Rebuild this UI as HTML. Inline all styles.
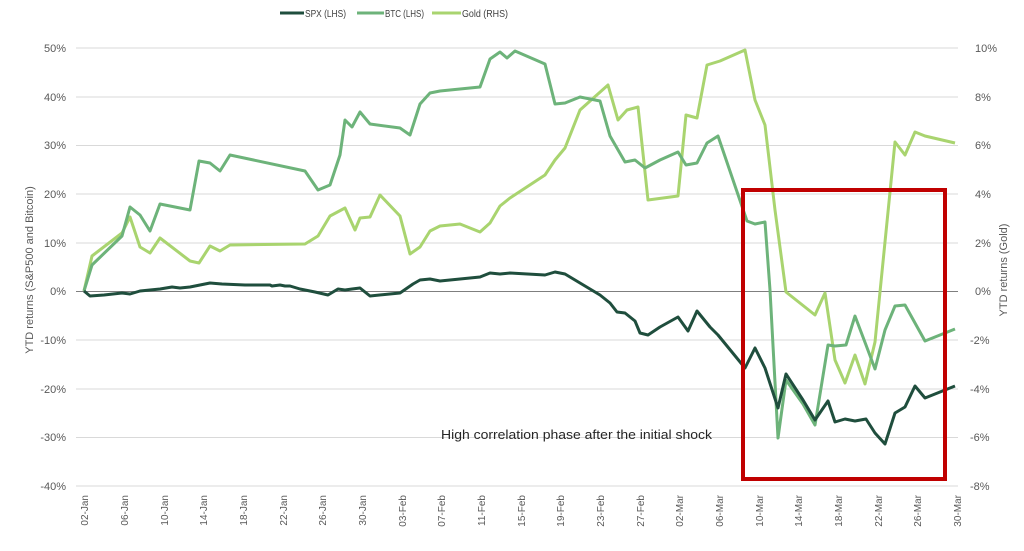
<!DOCTYPE html>
<html><head><meta charset="utf-8"><style>body{margin:0;background:#fff}svg{display:block;font-family:"Liberation Sans",sans-serif}</style></head><body>
<svg width="1024" height="551" viewBox="0 0 1024 551">
<g stroke="#d9d9d9" stroke-width="1">
<line x1="76" x2="958" y1="48" y2="48"/><line x1="76" x2="958" y1="97" y2="97"/><line x1="76" x2="958" y1="145.5" y2="145.5"/><line x1="76" x2="958" y1="194" y2="194"/><line x1="76" x2="958" y1="243" y2="243"/><line x1="76" x2="958" y1="340" y2="340"/><line x1="76" x2="958" y1="389" y2="389"/><line x1="76" x2="958" y1="437.5" y2="437.5"/><line x1="76" x2="958" y1="486" y2="486"/>
</g>
<line x1="76" x2="958" y1="291.5" y2="291.5" stroke="#7f7f7f" stroke-width="1"/>
<g font-size="11" fill="#595959" text-anchor="end">
<text x="66" y="52">50%</text><text x="66" y="101">40%</text><text x="66" y="149">30%</text><text x="66" y="198">20%</text><text x="66" y="247">10%</text><text x="66" y="295">0%</text><text x="66" y="344">-10%</text><text x="66" y="393">-20%</text><text x="66" y="441">-30%</text><text x="66" y="490">-40%</text>
</g>
<g font-size="11" fill="#595959">
<text x="975" y="52">10%</text><text x="975" y="101">8%</text><text x="975" y="149">6%</text><text x="975" y="198">4%</text><text x="975" y="247">2%</text><text x="975" y="295">0%</text><text x="970" y="344">-2%</text><text x="970" y="393">-4%</text><text x="970" y="441">-6%</text><text x="970" y="490">-8%</text>
</g>
<text transform="translate(33,270) rotate(-90)" font-size="11" fill="#595959" text-anchor="middle">YTD returns (S&amp;P500 and Bitcoin)</text>
<text transform="translate(1007,270) rotate(-90)" font-size="11" fill="#595959" text-anchor="middle">YTD returns (Gold)</text>
<g font-size="10" fill="#595959" text-anchor="end">
<text transform="translate(88,495) rotate(-90)">02-Jan</text>
<text transform="translate(128,495) rotate(-90)">06-Jan</text>
<text transform="translate(168,495) rotate(-90)">10-Jan</text>
<text transform="translate(207,495) rotate(-90)">14-Jan</text>
<text transform="translate(247,495) rotate(-90)">18-Jan</text>
<text transform="translate(287,495) rotate(-90)">22-Jan</text>
<text transform="translate(326,495) rotate(-90)">26-Jan</text>
<text transform="translate(366,495) rotate(-90)">30-Jan</text>
<text transform="translate(406,495) rotate(-90)">03-Feb</text>
<text transform="translate(445,495) rotate(-90)">07-Feb</text>
<text transform="translate(485,495) rotate(-90)">11-Feb</text>
<text transform="translate(525,495) rotate(-90)">15-Feb</text>
<text transform="translate(564,495) rotate(-90)">19-Feb</text>
<text transform="translate(604,495) rotate(-90)">23-Feb</text>
<text transform="translate(644,495) rotate(-90)">27-Feb</text>
<text transform="translate(683,495) rotate(-90)">02-Mar</text>
<text transform="translate(723,495) rotate(-90)">06-Mar</text>
<text transform="translate(763,495) rotate(-90)">10-Mar</text>
<text transform="translate(802,495) rotate(-90)">14-Mar</text>
<text transform="translate(842,495) rotate(-90)">18-Mar</text>
<text transform="translate(882,495) rotate(-90)">22-Mar</text>
<text transform="translate(921,495) rotate(-90)">26-Mar</text>
<text transform="translate(961,495) rotate(-90)">30-Mar</text>
</g>
<g fill="none" stroke-width="3" stroke-linejoin="round">
<polyline stroke="#a9d46f" points="84,291 92,256 122,233 130,217 140,247 150,253 160,238 190,261 199,263 210,246 220,251 230,245 305,244 318,236 330,216 345,208 355,230 360,218 370,217 380,195 400,216 410,254 420,247 430,231 440,226 460,224 480,232 490,223 500,206 510,198 545,175 555,160 565,148 580,110 608,85 618,120 627,110 638,107 648,200 678,196 686,115 697,118 707,65 720,61 745,50 755,100 765,125 775,210 786,292 815,315 825,293 835,360 845,383 855,355 865,384 875,342 895,142 905,155 915,132 925,136 955,143"/>
<polyline stroke="#6db37a" points="84,291 92,265 122,236 130,207 140,215 150,231 160,204 190,210 199,161 210,163 220,171 230,155 305,171 318,190 330,185 340,155 345,120 352,127 360,112 370,124 400,128 410,135 420,104 430,93 440,91 460,89 480,87 490,59 500,52 507,58 515,51 545,64 555,104 565,103 580,97 600,101 610,136 625,162 635,160 645,168 660,160 678,152 686,165 697,163 707,143 718,136 747,221 755,224 765,222 770,290 778,438 786,380 803,404 815,425 828,345 835,346 846,345 855,316 866,345 875,369 885,330 895,306 905,305 925,341 955,329"/>
<polyline stroke="#1f4e3d" points="84,291 90,296 104,295 122,293 130,294 140,291 150,290 160,289 172,287 180,288 190,287 200,285 210,283 222,284 245,285 258,285 270,285 272,286 280,285 285,286 290,286 300,289 315,292 328,295 338,289 345,290 352,289 360,288 370,296 400,293 413,284 420,280 430,279 440,281 460,279 480,277 490,273 500,274 510,273 545,275 555,272 565,274 580,283 600,295 610,303 617,312 625,313 635,321 640,333 648,335 660,327 678,317 688,331 697,311 710,327 718,335 745,368 755,348 765,368 778,408 786,374 803,400 815,420 828,401 835,422 845,419 855,421 866,419 875,433 885,444 895,413 905,407 915,386 925,398 955,386"/>
</g>
<rect x="743" y="190" width="202" height="289" fill="none" stroke="#c00000" stroke-width="4"/>
<text x="441" y="439" font-size="13" fill="#262626" textLength="271" lengthAdjust="spacingAndGlyphs">High correlation phase after the initial shock</text>
<g font-size="10" fill="#404040">
<line x1="280" x2="304" y1="13" y2="13" stroke="#1f4e3d" stroke-width="3"/><text x="305" y="17" textLength="41" lengthAdjust="spacingAndGlyphs">SPX (LHS)</text>
<line x1="357" x2="384" y1="13" y2="13" stroke="#6db37a" stroke-width="3"/><text x="385" y="17" textLength="39" lengthAdjust="spacingAndGlyphs">BTC (LHS)</text>
<line x1="432" x2="461" y1="13" y2="13" stroke="#a9d46f" stroke-width="3"/><text x="462" y="17" textLength="46" lengthAdjust="spacingAndGlyphs">Gold (RHS)</text>
</g>
</svg>
</body></html>
